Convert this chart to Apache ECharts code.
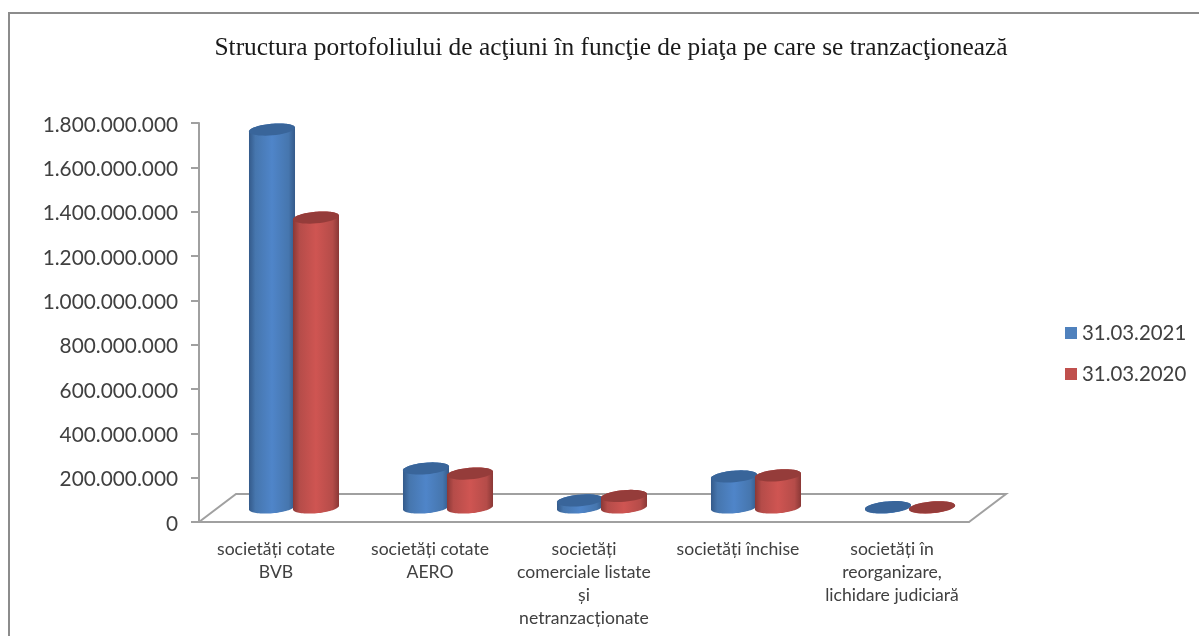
<!DOCTYPE html>
<html>
<head>
<meta charset="utf-8">
<script src="https://cdn.jsdelivr.net/npm/echarts@6/dist/echarts.min.js"></script>
<style>
html, body { margin: 0; padding: 0; background: #fff; }
#chart { width: 1199px; height: 636px; }
</style>
</head>
<body>
<div id="chart"></div>
<script>
var titleText = 'Structura portofoliului de acţiuni în funcţie de piaţa pe care se tranzacţionează';
var categories = [
    'societăți cotate\nBVB',
    'societăți cotate\nAERO',
    'societăți\ncomerciale listate\nși\nnetranzacționate',
    'societăți închise',
    'societăți în\nreorganizare,\nlichidare judiciară'
];
var seriesNames = ['31.03.2021', '31.03.2020'];
var values2021 = [1705000000, 176000000, 32000000, 140000000, 1500000];
var values2020 = [1308000000, 153000000, 52000000, 145000000, 1000000];

var axisGrey = '#a0a0a0';
var textGrey = '#404040';

// floor depth of the fake 3d box
var depthX = 37;
var depthY = 28;

function formatDots(v) {
    return '{v|' + String(v).replace(/\B(?=(\d{3})+$)/g, '.') + '}';
}

// points of a slightly tilted ellipse, from angle a0 to a1
function ellipsePts(cx, cy, rx, ry, a0, a1) {
    var tilt = -5 * Math.PI / 180;
    var pts = [];
    var n = 40;
    for (var i = 0; i <= n; i++) {
        var a = a0 + (a1 - a0) * i / n;
        var px = rx * Math.cos(a);
        var py = ry * Math.sin(a);
        pts.push([
            cx + px * Math.cos(tilt) - py * Math.sin(tilt),
            cy + px * Math.sin(tilt) + py * Math.cos(tilt)
        ]);
    }
    return pts;
}

function cylinder(offset, colors) {
    return function (params, api) {
        var top = api.coord([api.value(0), api.value(1)]);
        var base = api.coord([api.value(0), 0]);
        var band = api.size([1, 0])[0];
        var rx = band * 0.15;
        var ry = 5.8;
        var cx = base[0] + offset;
        var baseY = base[1] - 14.5;
        var topY = top[1] - 14.5;
        // body: lower half of the base ellipse + upper half of the top one
        var body = ellipsePts(cx, baseY, rx, ry, 0, Math.PI)
            .concat(ellipsePts(cx, topY, rx, ry, Math.PI, 2 * Math.PI));
        return {
            type: 'group',
            children: [
                {
                    type: 'polygon',
                    shape: { points: body },
                    style: {
                        fill: new echarts.graphic.LinearGradient(0, 0, 1, 0, [
                            { offset: 0, color: colors[0] },
                            { offset: 0.14, color: colors[1] },
                            { offset: 0.5, color: colors[2] },
                            { offset: 0.86, color: colors[1] },
                            { offset: 1, color: colors[0] }
                        ])
                    }
                },
                {
                    type: 'polygon',
                    shape: { points: ellipsePts(cx, topY, rx, ry, 0, 2 * Math.PI) },
                    style: { fill: colors[3] }
                }
            ]
        };
    };
}

function renderFloor(params, api) {
    var first = api.coord([0, 0]);
    var last = api.coord([categories.length - 1, 0]);
    var half = api.size([1, 0])[0] / 2;
    var a = [first[0] - half, first[1]];
    var b = [last[0] + half, last[1]];
    return {
        type: 'polyline',
        shape: {
            points: [
                a,
                [a[0] + depthX, a[1] - depthY],
                [b[0] + depthX, b[1] - depthY],
                b
            ]
        },
        style: { fill: null, stroke: axisGrey, lineWidth: 2 }
    };
}

function pairs(values) {
    return values.map(function (v, i) { return [i, v]; });
}

var chart = echarts.init(document.getElementById('chart'));

chart.setOption({
    animation: false,
    backgroundColor: '#fff',
    title: {
        text: titleText,
        left: 606,
        top: 31,
        textAlign: 'center',
        textStyle: {
            fontFamily: 'Liberation Serif',
            fontSize: 25.4,
            fontWeight: 'normal',
            color: '#1a1a1a'
        }
    },
    legend: {
        orient: 'vertical',
        left: 1060,
        top: 316,
        itemWidth: 12,
        itemHeight: 12,
        itemGap: 17,
        icon: 'rect',
        selectedMode: false,
        data: seriesNames,
        textStyle: { fontFamily: 'Lato', fontSize: 20.4, color: textGrey, lineHeight: 24 }
    },
    grid: { left: 199, top: 123, width: 770, height: 399 },
    xAxis: {
        type: 'category',
        data: categories,
        axisLine: { lineStyle: { color: axisGrey, width: 2 } },
        axisTick: { length: 6, lineStyle: { color: axisGrey, width: 2 } },
        axisLabel: {
            interval: 0,
            margin: 16,
            fontFamily: 'Lato',
            fontSize: 17.6,
            lineHeight: 23,
            color: textGrey,
            align: 'center',
            verticalAlign: 'top'
        }
    },
    yAxis: {
        type: 'value',
        min: 0,
        max: 1800000000,
        interval: 200000000,
        splitLine: { show: false },
        axisLine: { show: true, lineStyle: { color: axisGrey, width: 2 } },
        axisTick: { show: true, length: 8, lineStyle: { color: axisGrey, width: 2 } },
        axisLabel: {
            margin: 21,
            formatter: formatDots,
            rich: {
                v: {
                    fontFamily: 'Lato',
                    fontSize: 20.8,
                    color: textGrey,
                    padding: [4, 0, 0, 0]
                }
            }
        }
    },
    series: [
        {
            type: 'custom',
            silent: true,
            renderItem: renderFloor,
            data: [[0, 0]],
            z: 1
        },
        {
            name: seriesNames[0],
            type: 'custom',
            silent: true,
            itemStyle: { color: '#4f81bd' },
            renderItem: cylinder(-4, ['#345a8a', '#4676ae', '#4f85c9', '#39659a']),
            encode: { x: 0, y: 1 },
            data: pairs(values2021),
            z: 2
        },
        {
            name: seriesNames[1],
            type: 'custom',
            silent: true,
            itemStyle: { color: '#c0504d' },
            renderItem: cylinder(40, ['#8a3836', '#b54c49', '#cf5552', '#953c3a']),
            encode: { x: 0, y: 1 },
            data: pairs(values2020),
            z: 3
        }
    ],
    graphic: [
        {
            type: 'rect',
            silent: true,
            z: 0,
            shape: { x: 9, y: 13, width: 1400, height: 900 },
            style: { fill: null, stroke: '#8c8c8c', lineWidth: 2 }
        }
    ]
});
</script>
</body>
</html>
